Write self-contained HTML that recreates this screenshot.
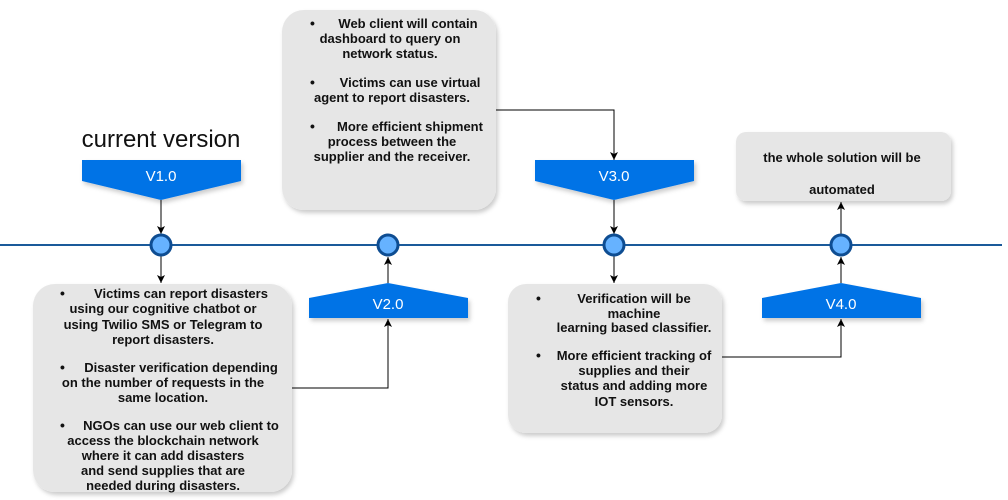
<!DOCTYPE html>
<html><head><meta charset="utf-8"><style>
html,body{margin:0;padding:0;background:#fff;width:1008px;height:500px;overflow:hidden}
svg{display:block}
.t{font-family:"Liberation Sans",Arial,sans-serif;font-weight:bold;font-size:13px;fill:#111;text-anchor:middle}
.b{font-family:"Liberation Sans",Arial,sans-serif;font-size:14px;font-weight:bold;fill:#111}
.v{font-family:"Liberation Sans",Arial,sans-serif;font-size:15px;fill:#fff;text-anchor:middle}
</style></head><body>
<svg width="1008" height="500" viewBox="0 0 1008 500" xmlns="http://www.w3.org/2000/svg">
<defs>
<filter id="sh" x="-10%" y="-10%" width="130%" height="130%"><feDropShadow dx="2" dy="3" stdDeviation="2" flood-color="#000" flood-opacity="0.2"/></filter>
<marker id="ar" markerWidth="10" markerHeight="10" refX="8" refY="5" orient="auto" markerUnits="userSpaceOnUse"><path d="M0,1 L8,5 L0,9 L2,5 Z" fill="#000"/></marker>
</defs>
<g fill="#e6e6e6" filter="url(#sh)">
<rect x="33" y="284" width="259" height="208" rx="22"/>
<rect x="282" y="10" width="214" height="200" rx="22"/>
<rect x="508" y="284" width="214" height="149" rx="18"/>
<rect x="736" y="132" width="215" height="69" rx="10"/>
</g>
<line x1="0" y1="245" x2="1002" y2="245" stroke="#1a5a9a" stroke-width="2"/>
<g stroke="#000" stroke-width="1" fill="none" marker-end="url(#ar)">
<line x1="161" y1="200" x2="161" y2="234"/>
<line x1="161" y1="256" x2="161" y2="283"/>
<line x1="388" y1="283" x2="388" y2="257"/>
<polyline points="292,388 388,388 388,319"/>
<polyline points="496,110 614,110 614,160"/>
<line x1="614" y1="200" x2="614" y2="234"/>
<line x1="614" y1="256" x2="614" y2="283"/>
<polyline points="722,357 841,357 841,319"/>
<line x1="841" y1="283" x2="841" y2="257"/>
<line x1="841" y1="234" x2="841" y2="202"/>
</g>
<g fill="#66b2ff" stroke="#0e4d92" stroke-width="3">
<circle cx="161" cy="245" r="10"/><circle cx="388" cy="245" r="10"/>
<circle cx="614" cy="245" r="10"/><circle cx="841" cy="245" r="10"/>
</g>
<g fill="#0073e6" filter="url(#sh)">
<polygon points="82,160 241,160 241,181 161,200 82,181"/>
<polygon points="535,160 694,160 694,181 614,200 535,181"/>
<polygon points="309,298 388,283 468,298 468,318 309,318"/>
<polygon points="762,298 841,283 921,298 921,318 762,318"/>
</g>
<text class="v" x="161" y="181">V1.0</text>
<text class="v" x="614" y="181">V3.0</text>
<text class="v" x="388" y="309">V2.0</text>
<text class="v" x="841" y="309">V4.0</text>
<text x="161" y="147" font-family="Liberation Sans,Arial,sans-serif" font-size="24" text-anchor="middle" fill="#111">current version</text>
<g class="b"><text x="60" y="298">•</text><text x="60" y="372">•</text><text x="60" y="430">•</text></g>
<text class="t" x="181" y="298">Victims can report disasters</text>
<text class="t" x="163" y="313">using our cognitive chatbot or</text>
<text class="t" x="163" y="329">using Twilio SMS or Telegram to</text>
<text class="t" x="163" y="344">report disasters.</text>
<text class="t" x="181" y="372">Disaster verification depending</text>
<text class="t" x="163" y="387">on the number of requests in the</text>
<text class="t" x="163" y="402">same location.</text>
<text class="t" x="181" y="430">NGOs can use our web client to</text>
<text class="t" x="163" y="445">access the blockchain network</text>
<text class="t" x="163" y="460">where it can add disasters</text>
<text class="t" x="163" y="475">and send supplies that are</text>
<text class="t" x="163" y="490">needed during disasters.</text>
<g class="b"><text x="310" y="28">•</text><text x="310" y="87">•</text><text x="310" y="131">•</text></g>
<text class="t" x="408" y="28">Web client will contain</text>
<text class="t" x="390" y="43">dashboard to query on</text>
<text class="t" x="390" y="58">network status.</text>
<text class="t" x="410" y="87">Victims can use virtual</text>
<text class="t" x="392" y="102">agent to report disasters.</text>
<text class="t" x="410" y="131">More efficient shipment</text>
<text class="t" x="392" y="146">process between the</text>
<text class="t" x="392" y="161">supplier and the receiver.</text>
<g class="b"><text x="536" y="303">•</text><text x="536" y="360">•</text></g>
<text class="t" x="634" y="303">Verification will be</text>
<text class="t" x="634" y="318">machine</text>
<text class="t" x="634" y="332">learning based classifier.</text>
<text class="t" x="634" y="360">More efficient tracking of</text>
<text class="t" x="634" y="375">supplies and their</text>
<text class="t" x="634" y="390">status and adding more</text>
<text class="t" x="634" y="406">IOT sensors.</text>
<text class="t" x="842" y="162">the whole solution will be</text>
<text class="t" x="842" y="194">automated</text>
</svg>
</body></html>
